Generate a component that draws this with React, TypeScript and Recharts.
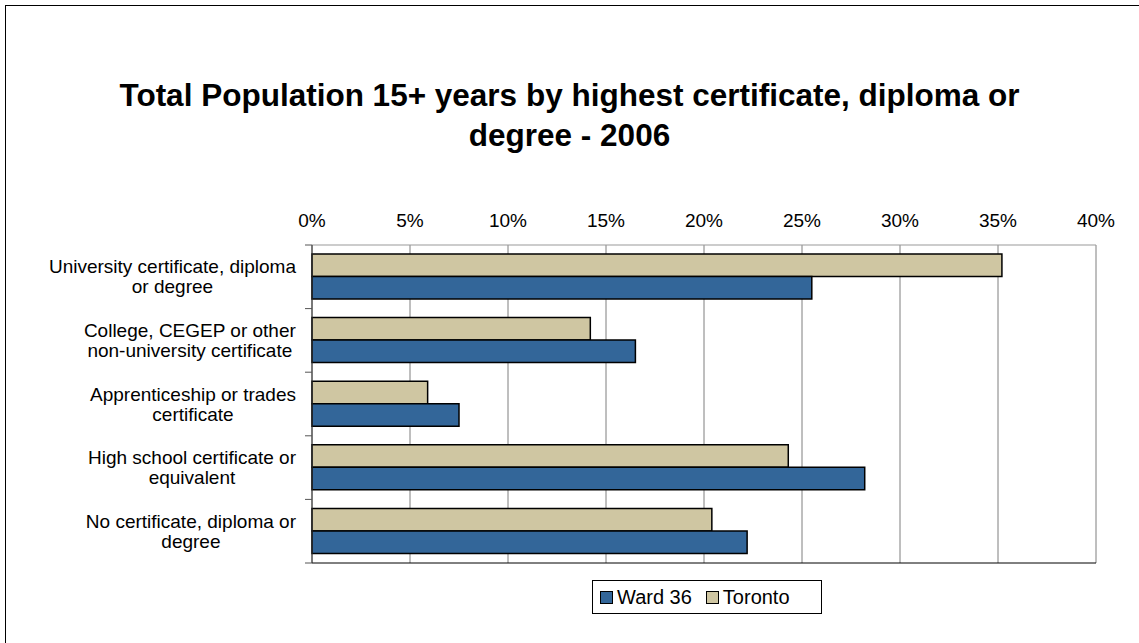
import React from "react"
import { Bar, BarChart, CartesianGrid, XAxis, YAxis } from "recharts"

const categories = [
  "University certificate, diploma|or degree",
  "College, CEGEP or other|non-university certificate",
  "Apprenticeship or trades|certificate",
  "High school certificate or|equivalent",
  "No certificate, diploma or|degree",
]
const ward36 = [25.5, 16.5, 7.5, 28.2, 22.2]
const toronto = [35.2, 14.2, 5.9, 24.3, 20.4]
const xTicks = [0, 5, 10, 15, 20, 25, 30, 35, 40]

const data = categories.map((name, i) => ({
  name,
  ward: ward36[i],
  toronto: toronto[i],
}))

const FONT = '"Liberation Sans", Arial, sans-serif'
const WARD_COLOR = "#336699"
const TORONTO_COLOR = "#CFC6A2"

const PLOT_LEFT = 312
const BAND = 318 / categories.length

let ctx: CanvasRenderingContext2D | null = null
function textWidth(s: string) {
  if (!ctx) ctx = document.createElement("canvas").getContext("2d")
  if (!ctx) return s.length * 9
  ctx.font = `19px ${FONT}`
  return ctx.measureText(s).width
}

function CategoryTick(props: any) {
  const { y, payload, index } = props
  const lines = String(payload.value).split("|")
  const w = Math.max(...lines.map(textWidth))
  const cx = 296 - w / 2
  return (
    <g>
      <line x1={PLOT_LEFT - 7} x2={PLOT_LEFT} y1={y - BAND / 2} y2={y - BAND / 2} stroke="#555" />
      {index === categories.length - 1 && (
        <line x1={PLOT_LEFT - 7} x2={PLOT_LEFT} y1={y + BAND / 2} y2={y + BAND / 2} stroke="#555" />
      )}
      {lines.map((l, i) => (
        <text
          key={i}
          x={cx}
          y={y - 10 + i * 20}
          textAnchor="middle"
          dominantBaseline="central"
          fontSize={19}
          fontFamily={FONT}
          fill="#000"
        >
          {l}
        </text>
      ))}
    </g>
  )
}

function LegendBox() {
  const item = (color: string, label: string) => (
    <span style={{ display: "inline-flex", alignItems: "center", marginRight: 14 }}>
      <span
        style={{
          display: "inline-block",
          width: 11,
          height: 11,
          background: color,
          border: "1.5px solid #000",
          marginRight: 4,
        }}
      />
      {label}
    </span>
  )
  return (
    <div
      style={{
        position: "absolute",
        left: 592,
        top: 580,
        width: 230,
        height: 34,
        boxSizing: "border-box",
        border: "1px solid #000",
        display: "flex",
        alignItems: "center",
        paddingLeft: 7,
        fontSize: 20,
        fontFamily: FONT,
        color: "#000",
      }}
    >
      {item(WARD_COLOR, "Ward 36")}
      {item(TORONTO_COLOR, "Toronto")}
    </div>
  )
}

export default function App() {
  return (
    <div
      style={{
        position: "absolute",
        left: 0,
        top: 0,
        width: 1139,
        height: 643,
        overflow: "hidden",
        background: "#fff",
        fontFamily: FONT,
      }}
    >
      <div
        style={{
          position: "absolute",
          left: 5,
          top: 5,
          width: 1400,
          height: 900,
          borderTop: "1.5px solid #000",
          borderLeft: "1.5px solid #000",
        }}
      />
      <div
        style={{
          position: "absolute",
          left: 0,
          top: 75,
          width: 1139,
          textAlign: "center",
          fontSize: 31.5,
          fontWeight: "bold",
          lineHeight: "40px",
          color: "#000",
        }}
      >
        Total Population 15+ years by highest certificate, diploma or
        <br />
        degree - 2006
      </div>
      <div style={{ position: "absolute", left: 0, top: 0 }}>
        <BarChart
          layout="vertical"
          width={1139}
          height={643}
          data={data}
          margin={{ top: 205, right: 43, bottom: 70, left: 0 }}
          barGap={0}
          barSize={22.5}
        >
          <CartesianGrid xAxisId="top" horizontal={false} stroke="#7f7f7f" />
          <XAxis
            xAxisId="top"
            orientation="top"
            type="number"
            domain={[0, 40]}
            ticks={xTicks}
            height={40}
            tickFormatter={(v) => `${v}%`}
            axisLine={{ stroke: "#999" }}
            tickLine={false}
            tickSize={0}
            tickMargin={18}
            tick={{ fontSize: 19, fill: "#000", fontFamily: FONT }}
          />
          <XAxis
            xAxisId="bottom"
            orientation="bottom"
            type="number"
            domain={[0, 40]}
            ticks={xTicks}
            height={10}
            tick={false}
            tickSize={7}
            axisLine={{ stroke: "#000" }}
            tickLine={{ stroke: "#666" }}
          />
          <YAxis
            type="category"
            dataKey="name"
            width={312}
            axisLine={{ stroke: "#333" }}
            tickLine={false}
            tick={<CategoryTick />}
            interval={0}
          />
          <Bar
            xAxisId="top"
            dataKey="toronto"
            name="Toronto"
            fill={TORONTO_COLOR}
            stroke="#000"
            strokeWidth={1.5}
            isAnimationActive={false}
          />
          <Bar
            xAxisId="top"
            dataKey="ward"
            name="Ward 36"
            fill={WARD_COLOR}
            stroke="#000"
            strokeWidth={1.5}
            isAnimationActive={false}
          />
        </BarChart>
      </div>
      <LegendBox />
    </div>
  )
}
